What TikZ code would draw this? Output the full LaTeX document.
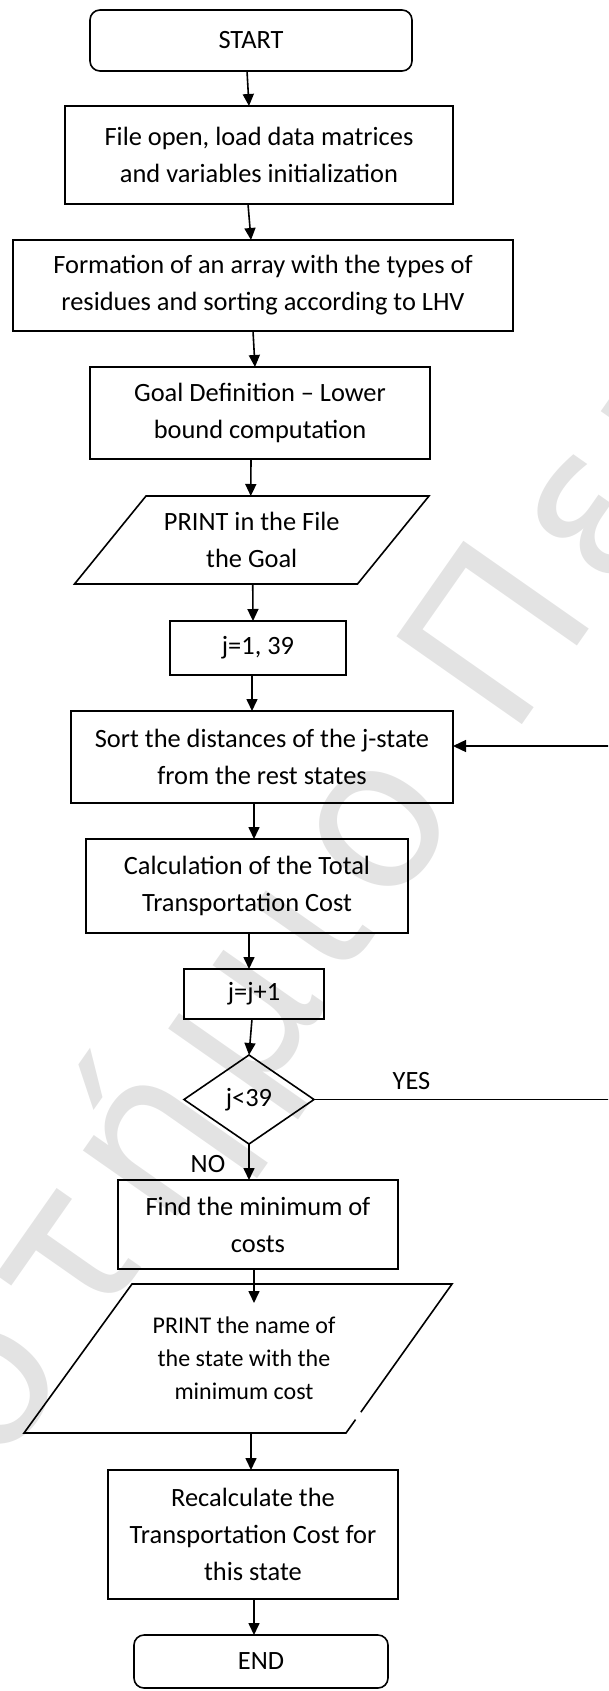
\documentclass[tikz,border=0pt]{standalone}
\usepackage{fontspec}
\setmainfont{Carlito}
\newfontfamily\wmfont[LetterSpace=8]{DejaVu Sans}
\usetikzlibrary{arrows.meta,shapes.geometric,calc}
\begin{document}
\begin{tikzpicture}[x=1pt,y=1pt,
  every node/.style={inner sep=0pt, outer sep=0pt},
  txt/.style={font=\fontsize{26.4}{37}\selectfont, align=center},
  stepbox/.style={txt, draw, line width=1.6pt, rectangle},
  term/.style={stepbox, rounded corners=10pt},
  parashape/.style={line width=1.6pt, line join=miter},
  arr/.style={line width=1.6pt, -{Triangle[length=12pt,width=11pt]}},
  loopline/.style={line width=1.4pt, -{Triangle[length=13pt,width=12pt]}},
  wm/.style={font=\wmfont\fontsize{210}{210}\selectfont, text=black!11}
]
\useasboundingbox (0,0) rectangle (608,-1691);
\clip (0,0) rectangle (608,-1691);

% watermark
\node[wm, rotate=55, anchor=base] (wmark) at (511,-741) {\llap{Πανεπιστήμιο\ }\rlap{Πειραιώς}};

% nodes
\node[term, minimum width=322, minimum height=61] (start) at (251,-40.5) {START};
\node[stepbox, minimum width=388, minimum height=98] (b1) at (259,-155) {File open, load data matrices\\and variables initialization};
\node[stepbox, minimum width=500, minimum height=91] (b2) at (263,-285.5) {Formation of an array with the types of\\residues and sorting according to LHV};
\node[stepbox, minimum width=340, minimum height=92] (b3) at (260,-413) {Goal Definition – Lower\\bound computation};
\node[txt, minimum width=283, minimum height=88] (p1) at (251.75,-540) {PRINT in the File\\the Goal};
\draw[parashape] ([xshift=35.75]p1.north west) -- ([xshift=35.75]p1.north east) -- ([xshift=-35.75]p1.south east) -- ([xshift=-35.75]p1.south west) -- cycle;
\node[stepbox, minimum width=176, minimum height=54] (j1) at (258,-648) {j=1, 39};
\node[stepbox, minimum width=382, minimum height=92] (sort) at (262,-757) {Sort the distances of the j-state\\from the rest states};
\node[stepbox, minimum width=322, minimum height=94] (calc) at (247,-886) {Calculation of the Total\\Transportation Cost};
\node[stepbox, minimum width=140, minimum height=50] (jj) at (254,-994) {j=j+1};
\node[txt, shape=diamond, draw, line width=1.6pt, minimum width=130, minimum height=89] (dec) at (249,-1099.5) {j<39};
\node[stepbox, minimum width=280, minimum height=89] (find) at (258,-1224.5) {Find the minimum of\\costs};
\node[txt, font=\fontsize{24}{33}\selectfont, minimum width=321, minimum height=149] (p2) at (244,-1358.5) {PRINT the name of\\the state with the\\minimum cost};
\coordinate (p2tl) at ([xshift=48.5]p2.north west);
\coordinate (p2tr) at ([xshift=47.5]p2.north east);
\coordinate (p2br) at ([xshift=-58.5]p2.south east);
\coordinate (p2bl) at ([xshift=-59.5]p2.south west);
\draw[parashape] ($(p2tr)!0.86!(p2br)$) -- (p2tr) -- (p2tl) -- (p2bl) -- (p2br) -- ($(p2tr)!0.91!(p2br)$);
\node[stepbox, minimum width=290, minimum height=129] (rec) at (253,-1534.5) {Recalculate the\\Transportation Cost for\\this state};
\node[term, minimum width=254, minimum height=53] (end) at (261,-1661.5) {END};

% labels
\node[txt] (yes) at (411.5,-1081) {YES};
\node[txt] (no) at (208,-1164) {NO};

% connectors
\draw[arr] ([xshift=-4]start.south) -- ([xshift=-10]b1.north);
\draw[arr] ([xshift=-11]b1.south) -- ([xshift=-12]b2.north);
\draw[arr] ([xshift=-10]b2.south) -- ([xshift=-5]b3.north);
\draw[arr] ([xshift=-9]b3.south) -- ([xshift=-1]p1.north);
\draw[arr] ([xshift=1]p1.south) -- ([xshift=-5]j1.north);
\draw[arr] ([xshift=-6]j1.south) -- ([xshift=-10]sort.north);
\draw[arr] ([xshift=-8]sort.south) -- ([xshift=7]calc.north);
\draw[arr] ([xshift=2]calc.south) -- ([xshift=-5]jj.north);
\draw[arr] ([xshift=-2]jj.south) -- (dec.north);
\draw[arr] (dec.south) -- ([xshift=-9]find.north);
\draw[arr] ([xshift=-4]find.south) -- ([xshift=10,yshift=-19]p2.north);
\draw[arr] ([xshift=7]p2.south) -- ([xshift=-2]rec.north);
\draw[arr] ([xshift=1]rec.south) -- ([xshift=-7]end.north);
\draw[loopline] (dec.east) -- ++(300,0) coordinate (lc) |- ([yshift=11]sort.east);
\end{tikzpicture}
\end{document}
